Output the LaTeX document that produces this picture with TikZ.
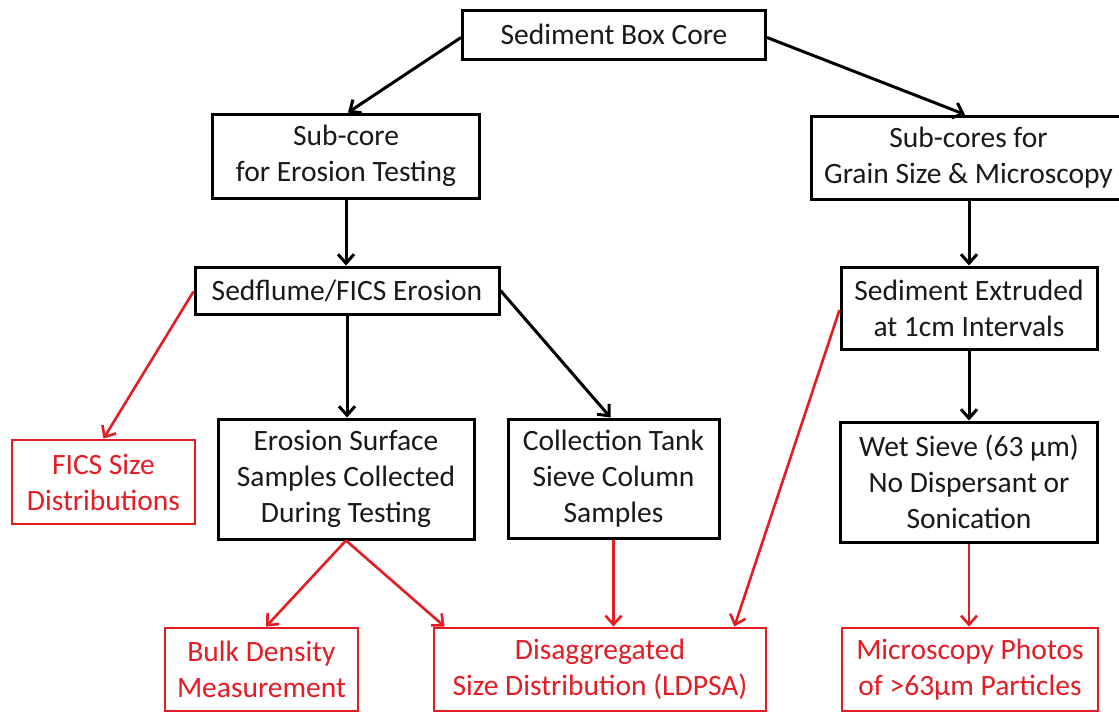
\documentclass[tikz,border=0pt]{standalone}
\usepackage{fontspec}
\setmainfont{Carlito}
\usetikzlibrary{arrows.meta,calc}
\definecolor{rd}{RGB}{228,28,36}
\definecolor{tx}{RGB}{25,25,25}
\begin{document}
\begin{tikzpicture}[x=1pt,y=-1pt,
  box/.style={draw=black, line width=3pt, text=tx, inner sep=0pt, align=center, font=\fontsize{29.5}{36}\selectfont},
  rbox/.style={box, draw=rd, text=rd, line width=2.8pt},
  arr/.style={line width=3pt, -{Straight Barb[length=9pt,width=16pt]}},
  rarr/.style={arr, draw=rd, line width=2.6pt}]
\clip (0,0) rectangle (1119,713);
\fill[white] (0,0) rectangle (1119,713);
\node[box, minimum width=303pt, minimum height=49pt] (core) at (614,34.5) {Sediment Box Core};
\node[box, minimum width=267pt, minimum height=84pt] (sub) at (346,156) {Sub-core\\for Erosion Testing};
\node[box, minimum width=315pt, minimum height=83pt] (grain) at (968.5,157.5) {Sub-cores for\\Grain Size \& Microscopy};
\node[box, minimum width=304pt, minimum height=47pt] (sed) at (347,290.5) {Sedflume/FICS Erosion};
\node[box, minimum width=256pt, minimum height=82pt] (ext) at (969,308) {Sediment Extruded\\at 1cm Intervals};
\node[rbox, minimum width=183pt, minimum height=84pt] (fics) at (103.5,482) {FICS Size\\Distributions};
\node[box, minimum width=256pt, minimum height=120pt] (ero) at (346,479) {Erosion Surface\\Samples Collected\\During Testing};
\node[box, minimum width=211pt, minimum height=119pt] (coll) at (613.5,478.5) {Collection Tank\\Sieve Column\\Samples};
\node[box, minimum width=257pt, minimum height=120pt] (wet) at (969,482) {Wet Sieve (63 μm)\\No Dispersant or\\Sonication};
\node[rbox, minimum width=193pt, minimum height=83pt] (bulk) at (261.5,669.5) {Bulk Density\\Measurement};
\node[rbox, minimum width=332pt, minimum height=83pt] (dis) at (600,669.5) {Disaggregated\\Size Distribution (LDPSA)};
\node[rbox, minimum width=256pt, minimum height=83pt] (mic) at (970,669.5) {Microscopy Photos\\of >63μm Particles};

\draw[arr] ($(core.west)+(0,3)$) -- ($(sub.north)+(2,0)$);
\draw[arr] ($(core.east)+(0,3)$) -- ($(grain.north)+(-3.5,0)$);
\draw[arr] (sub.south) -- (sub.south |- sed.north);
\draw[arr] (ext.north |- grain.south) -- (ext.north);
\draw[arr] (sed.south) -- (sed.south |- ero.north);
\draw[arr] (sed.east) -- ($(coll.north)+(-3,0)$);
\draw[arr] (ext.south) -- (ext.south |- wet.north);

\draw[rarr] ($(sed.west)+(0,1)$) -- (fics.north);
\draw[rarr] ($(ext.west)+(0,2)$) -- ($(dis.north east)+(-33,0)$);
\draw[rarr] (ero.south) -- ($(bulk.north)+(4.5,0)$);
\draw[rarr] (ero.south) -- ($(dis.north west)+(12,0)$);
\draw[rarr] (coll.south) -- (coll.south |- dis.north);
\draw[rarr] (wet.south) -- (wet.south |- mic.north);
\end{tikzpicture}
\end{document}
